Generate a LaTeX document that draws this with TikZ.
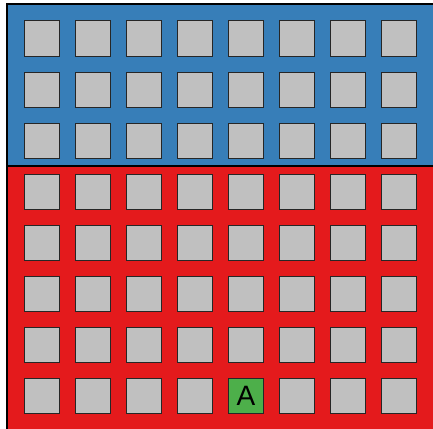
\documentclass[tikz,border=0pt]{standalone}
\usepackage{fontspec}
\setmainfont{Liberation Sans}
\usetikzlibrary{positioning}
\definecolor{zoneblue}{HTML}{377EB8}
\definecolor{zonered}{HTML}{E41A1C}
\definecolor{cellgray}{HTML}{C0C0C0}
\definecolor{targetgreen}{HTML}{4DAF4A}
\begin{document}
\begin{tikzpicture}[x=1pt, y=-1pt,
    zone/.style={draw=black, line width=1.6pt},
    cell/.style={rectangle, draw=black!85, fill=cellgray, line width=1pt, minimum size=35pt, inner sep=0pt},
    target/.style={cell, fill=targetgreen, font=\fontsize{28}{30}\selectfont}]
\useasboundingbox (0,0) rectangle (433,428);
\clip (0,0) rectangle (433,428);
% background zones
\path[zone, fill=zoneblue] (7,4) rectangle (435,166);
\path[zone, fill=zonered] (7,166) rectangle (435,432);
% grid of cells
\foreach \r in {0,...,7}
  \foreach \c in {0,...,7}{
    \ifnum\r\c=74
      \node[target] (c\r\c) at ({42+51*\c},{38.5+51*\r}) {A};
    \else
      \node[cell] (c\r\c) at ({42+51*\c},{38.5+51*\r}) {};
    \fi
  }
\end{tikzpicture}
\end{document}
